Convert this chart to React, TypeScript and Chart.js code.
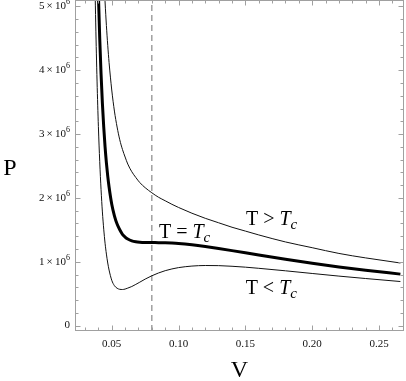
import React, { useEffect, useRef } from "react";
import { Chart, registerables } from "chart.js";

Chart.register(...registerables);

// Volume samples (V) shared by the three isotherms
const volumes = [
  0.036, 0.037, 0.038, 0.039, 0.04, 0.041, 0.042, 0.043, 0.044, 0.045, 0.046, 0.047, 0.048,
  0.05, 0.052, 0.054, 0.056, 0.058, 0.06, 0.062, 0.065, 0.068, 0.071, 0.075, 0.08, 0.085,
  0.09, 0.095, 0.1, 0.11, 0.12, 0.13, 0.14, 0.15, 0.16, 0.18, 0.2, 0.22, 0.24, 0.266,
];

// Pressures in units of 10^6
const pressureBelowTc = [
  7.48, 5.92, 4.74, 3.83, 3.12, 2.57, 2.13, 1.78, 1.51, 1.29, 1.12, 0.98, 0.87,
  0.71, 0.625, 0.585, 0.568, 0.565, 0.572, 0.587, 0.612, 0.645, 0.68, 0.728, 0.78, 0.824,
  0.86, 0.887, 0.908, 0.932, 0.941, 0.939, 0.929, 0.915, 0.897, 0.858, 0.816, 0.775, 0.737, 0.69,
];
const pressureAtTc = [
  10.46, 8.61, 7.19, 6.08, 5.2, 4.5, 3.94, 3.48, 3.11, 2.8, 2.55, 2.34, 2.17,
  1.9, 1.72, 1.59, 1.5, 1.43, 1.387, 1.356, 1.327, 1.312, 1.305, 1.301, 1.3, 1.299,
  1.298, 1.293, 1.286, 1.265, 1.238, 1.207, 1.174, 1.14, 1.105, 1.039, 0.976, 0.918, 0.867, 0.806,
];
const pressureAboveTc = [
  14.92, 12.63, 10.86, 9.45, 8.32, 7.4, 6.65, 6.03, 5.51, 5.07, 4.7, 4.39, 4.12,
  3.69, 3.36, 3.11, 2.91, 2.76, 2.64, 2.53, 2.41, 2.32, 2.24, 2.16, 2.08, 2.01,
  1.955, 1.9, 1.85, 1.76, 1.68, 1.61, 1.54, 1.48, 1.42, 1.31, 1.22, 1.13, 1.06, 0.98,
];

const criticalVolume = 0.08;

const xMin = 0.0225;
const xMax = 0.2687;
const yMin = -0.085;
const yMax = 5.1;

const xTicks = [0.05, 0.1, 0.15, 0.2, 0.25];
const xTickLabels = ["0.05", "0.10", "0.15", "0.20", "0.25"];
const yTicks = [0, 1, 2, 3, 4, 5];
const yTickMantissas = ["0", "1", "2", "3", "4", "5"];
const yTickExponent = "6";

const curveLabelRelations = [">", "=", "<"];
const curveLabelV = [0.1504, 0.0853, 0.1502];
const curveLabelP = [1.572, 1.377, 0.495];

const SERIF = '"Liberation Serif", "Times New Roman", serif';

function toPoints(ps: number[]) {
  return volumes.map((v, i) => ({ x: v, y: ps[i] }));
}

const framePlugin = {
  id: "mmaFrame",
  afterDatasetsDraw(chart: any) {
    const { ctx, chartArea: a, scales } = chart;
    const x = scales.x;
    const y = scales.y;
    ctx.save();
    const L = Math.round(a.left) + 0.5;
    const R = Math.round(a.right) - 0.5;
    const T = Math.round(a.top) + 0.5;
    const B = Math.round(a.bottom) - 0.5;
    ctx.strokeStyle = "#a0a0a0";
    ctx.lineWidth = 1;
    ctx.strokeRect(L, T, R - L, B - T);

    ctx.beginPath();
    for (let k = 2; k <= 27; k++) {
      const v = k / 100;
      if (v < xMin || v > xMax) continue;
      const major = k % 5 === 0;
      const len = major ? 5 : 3;
      const px = Math.round(x.getPixelForValue(v)) + 0.5;
      ctx.moveTo(px, B);
      ctx.lineTo(px, B - len);
      ctx.moveTo(px, T);
      ctx.lineTo(px, T + len);
    }
    for (let k = 0; k <= 25; k++) {
      const v = k / 5;
      if (v < yMin || v > yMax) continue;
      const major = k % 5 === 0;
      const len = major ? 5 : 3;
      const py = Math.round(y.getPixelForValue(v)) + 0.5;
      ctx.moveTo(L, py);
      ctx.lineTo(L + len, py);
      ctx.moveTo(R, py);
      ctx.lineTo(R - len, py);
    }
    ctx.stroke();

    // y tick labels with real superscripts
    ctx.fillStyle = "#111";
    ctx.textBaseline = "middle";
    yTicks.forEach((v, i) => {
      const py = y.getPixelForValue(v);
      const right = a.left - 5;
      if (v === 0) {
        ctx.font = `11px ${SERIF}`;
        ctx.textAlign = "right";
        ctx.fillText(yTickMantissas[i], right, py);
        return;
      }
      ctx.font = `8px ${SERIF}`;
      const expW = ctx.measureText(yTickExponent).width;
      ctx.textAlign = "right";
      ctx.fillText(yTickExponent, right, py - 4);
      ctx.font = `11px ${SERIF}`;
      ctx.fillText(yTickMantissas[i] + "\u2009×\u200910", right - expW, py);
    });

    // Axis titles
    ctx.fillStyle = "#000";
    ctx.font = `24px ${SERIF}`;
    ctx.textAlign = "center";
    ctx.textBaseline = "alphabetic";
    ctx.fillText("P", 10, 175);
    ctx.fillText("V", (a.left + a.right) / 2, 377);

    // Curve labels: T rel T_c
    ctx.textAlign = "left";
    curveLabelRelations.forEach((rel, i) => {
      let cx = x.getPixelForValue(curveLabelV[i]);
      const cy = y.getPixelForValue(curveLabelP[i]);
      ctx.font = `20px ${SERIF}`;
      const s = "T " + rel + " ";
      ctx.fillText(s, cx, cy);
      cx += ctx.measureText(s).width;
      ctx.font = `italic 20px ${SERIF}`;
      ctx.fillText("T", cx, cy);
      cx += ctx.measureText("T").width;
      ctx.font = `italic 15px ${SERIF}`;
      ctx.fillText("c", cx, cy + 4);
    });
    ctx.restore();
  },
};

export default function App() {
  const ref = useRef<HTMLCanvasElement | null>(null);

  useEffect(() => {
    if (!ref.current) return;
    const chart = new Chart(ref.current, {
      type: "line",
      data: {
        datasets: [
          {
            data: toPoints(pressureAtTc),
            borderColor: "#000",
            borderWidth: 3,
            pointRadius: 0,
            cubicInterpolationMode: "monotone",
          },
          {
            data: toPoints(pressureAboveTc),
            borderColor: "#111",
            borderWidth: 1,
            pointRadius: 0,
            cubicInterpolationMode: "monotone",
          },
          {
            data: toPoints(pressureBelowTc),
            borderColor: "#111",
            borderWidth: 1,
            pointRadius: 0,
            cubicInterpolationMode: "monotone",
          },
          {
            data: [
              { x: criticalVolume, y: yMin },
              { x: criticalVolume, y: yMax },
            ],
            borderColor: "#888",
            borderWidth: 1.2,
            borderDash: [6, 4],
            pointRadius: 0,
          },
        ],
      },
      options: {
        animation: false,
        responsive: false,
        layout: { padding: { top: 0, right: 2, left: 0, bottom: 0 } },
        plugins: { legend: { display: false }, tooltip: { enabled: false } },
        scales: {
          x: {
            type: "linear",
            min: xMin,
            max: xMax,
            grid: { display: false, drawTicks: false },
            border: { display: false },
            afterBuildTicks: (s: any) => {
              s.ticks = xTicks.map((v) => ({ value: v }));
            },
            afterFit: (s: any) => {
              s.height = 50;
            },
            ticks: {
              padding: 7,
              color: "#111",
              font: { family: SERIF, size: 11 },
              callback: (v: any) => {
                const i = xTicks.findIndex((t) => Math.abs(t - v) < 1e-9);
                return i >= 0 ? xTickLabels[i] : "";
              },
            },
          },
          y: {
            type: "linear",
            min: yMin,
            max: yMax,
            grid: { display: false, drawTicks: false },
            border: { display: false },
            afterBuildTicks: (s: any) => {
              s.ticks = yTicks.map((v) => ({ value: v }));
            },
            afterFit: (s: any) => {
              s.width = 75;
            },
            ticks: { display: false },
          },
        },
      },
      plugins: [framePlugin],
    });
    return () => chart.destroy();
  }, []);

  return (
    <div style={{ position: "fixed", left: 0, top: 0, width: 406, height: 381, background: "#fff" }}>
      <canvas ref={ref} width={406} height={381} style={{ display: "block" }} />
    </div>
  );
}
